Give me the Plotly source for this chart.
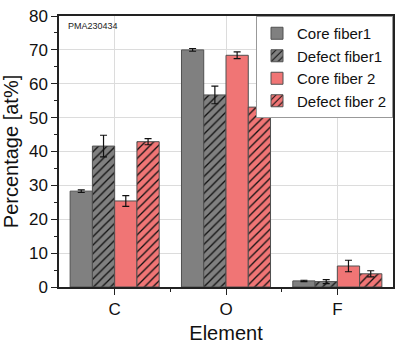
import plotly.graph_objects as go

elements = ["C", "O", "F"]
series_names = ["Core fiber1", "Defect fiber1", "Core fiber 2", "Defect fiber 2"]
core1 = [28.3, 70.0, 1.8]
core1_err = [0.4, 0.4, 0.2]
defect1 = [41.6, 56.7, 1.6]
defect1_err = [3.2, 2.6, 0.6]
core2 = [25.4, 68.4, 6.2]
core2_err = [1.6, 1.0, 1.7]
defect2 = [42.9, 53.1, 3.9]
defect2_err = [0.9, 1.7, 0.9]

values = [core1, defect1, core2, defect2]
errors = [core1_err, defect1_err, core2_err, defect2_err]
fills = ["#808080", "#808080", "#F07575", "#F07575"]
hatched = [False, True, False, True]

x = [1, 2, 3]
fig = go.Figure()
for name, v, e, c, h in zip(series_names, values, errors, fills, hatched):
    marker = dict(color=c, line=dict(color="#505050", width=1))
    if h:
        marker["pattern"] = dict(shape="/", fgcolor="#111111", bgcolor=c, size=6, solidity=0.22, fillmode="replace")
    fig.add_trace(go.Bar(
        name=name, x=x, y=v, marker=marker,
        error_y=dict(type="data", array=e, color="#111111", thickness=1.2, width=3.5),
    ))

fig.add_annotation(text="PMA230434", x=0.02, y=0.99, xref="paper", yref="paper",
                   xanchor="left", yanchor="top", showarrow=False,
                   font=dict(family="Liberation Sans, Arial", size=9, color="#222"))

fig.update_layout(
    width=395, height=344,
    margin=dict(l=59, r=0, t=16, b=57),
    paper_bgcolor="white", plot_bgcolor="white",
    barmode="group", bargap=0.2, bargroupgap=0,
    font=dict(family="Liberation Sans, Arial", color="#111", size=17),
    legend=dict(x=1, y=1, xanchor="right", yanchor="top", bgcolor="white",
                bordercolor="#999", borderwidth=1, font=dict(size=15),
                tracegroupgap=0, itemwidth=30),
    xaxis=dict(range=[0.5, 3.5], tickvals=x, ticktext=elements, showgrid=True,
               gridcolor="#dcdcdc", gridwidth=1, showline=True, linecolor="#222",
               linewidth=1.5, mirror=True, ticks="outside", ticklen=6, tickwidth=1.2,
               tickcolor="#222", title=dict(text="Element", standoff=10),
               minor=dict(tickvals=[1.5, 2.5], ticks="outside", ticklen=3, tickcolor="#222"),
               zeroline=False),
    yaxis=dict(range=[0, 80], dtick=10, showgrid=True, gridcolor="#dcdcdc", gridwidth=1,
               showline=True, linecolor="#222", linewidth=1.5, mirror=True,
               ticks="outside", ticklen=6, tickwidth=1.2, tickcolor="#222",
               title=dict(text="Percentage [at%]", standoff=6),
               minor=dict(dtick=5, ticks="outside", ticklen=3, tickcolor="#222"),
               zeroline=False),
)
fig.write_html("out.html")
